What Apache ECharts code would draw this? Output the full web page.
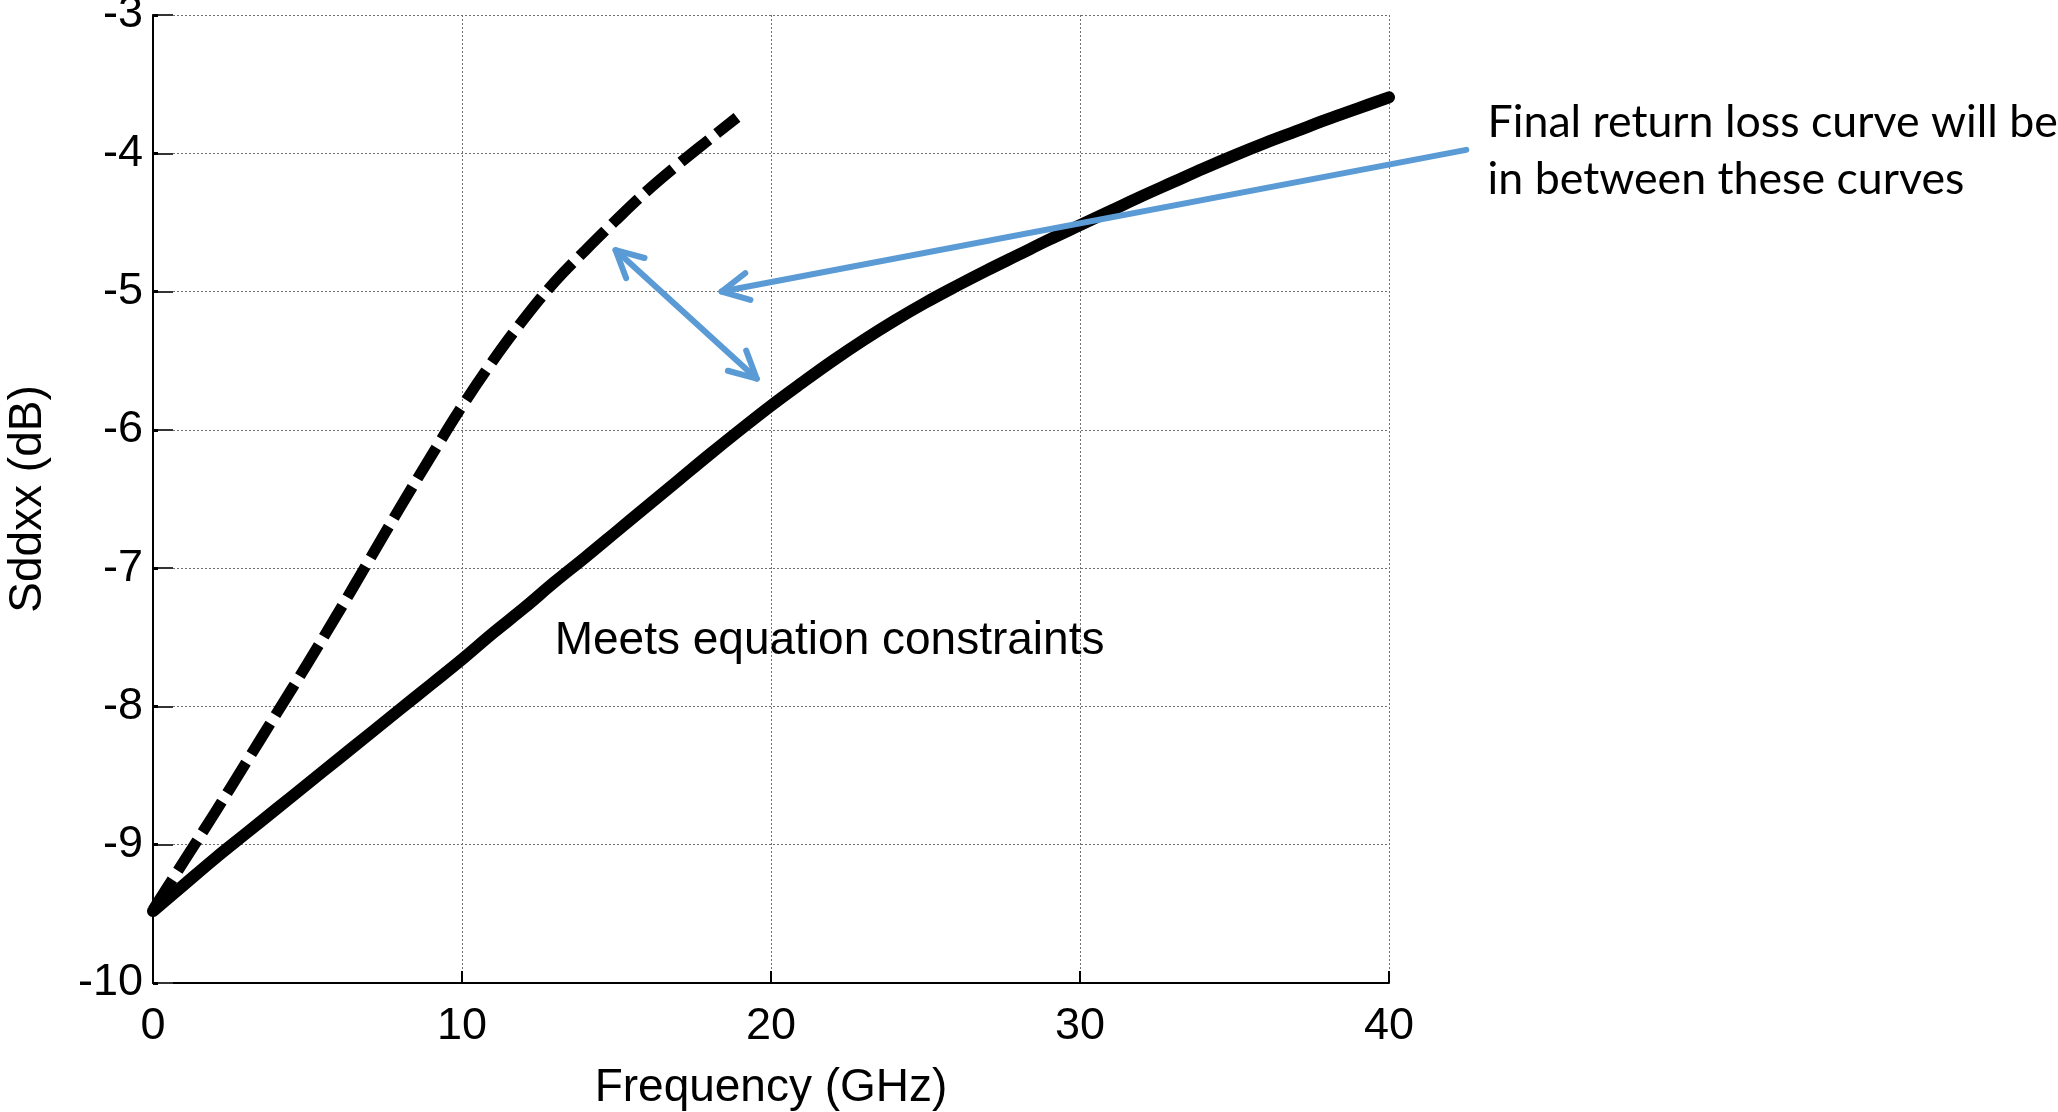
<!DOCTYPE html>
<html><head><meta charset="utf-8">
<script src="https://cdn.jsdelivr.net/npm/echarts@6/dist/echarts.min.js"></script>
<style>html,body{margin:0;padding:0;background:#fff}#c{width:2058px;height:1112px}</style>
</head><body><div id="c"></div>
<script>
// ---- data ----
const xTickValues = [0, 10, 20, 30, 40];
const yTickValues = [-10, -9, -8, -7, -6, -5, -4, -3];
const freqSolid = [0,1,2,3,4,5,6,7,8,9,10,11,12,13,14,15,16,17,18,19,20,21,22,23,24,25,26,27,28,29,30,31,32,33,34,35,36,37,38,39,40];
const sddSolid = [-9.48,-9.29,-9.10,-8.92,-8.74,-8.56,-8.38,-8.20,-8.02,-7.84,-7.66,-7.47,-7.29,-7.10,-6.92,-6.735,-6.55,-6.365,-6.18,-6.00,-5.825,-5.66,-5.50,-5.35,-5.21,-5.08,-4.96,-4.845,-4.735,-4.625,-4.52,-4.415,-4.31,-4.21,-4.11,-4.015,-3.925,-3.84,-3.755,-3.675,-3.595];
const freqDashed = [0,1,2,3,4,5,6,7,8,9,10,11,12,13,14,15,16,17,18,18.9];
const sddDashed = [-9.47,-9.12,-8.77,-8.41,-8.05,-7.69,-7.32,-6.94,-6.56,-6.19,-5.83,-5.50,-5.20,-4.93,-4.70,-4.48,-4.27,-4.08,-3.90,-3.74];
// annotation anchors (data coordinates)
const arrowSingleFrom = [42.5, -3.975];
const arrowSingleTo = [18.4, -5.0];
const arrowDoubleA = [14.97, -4.70];
const arrowDoubleB = [19.54, -5.63];
const noteMidText = 'Meets equation constraints';
const noteMidAnchor = [13.0, -7.53];
const noteRightLines = ['Final return loss curve will be', 'in between these curves'];
const noteRightAnchors = [[43.19, -3.78], [43.19, -4.19]];

const chart = echarts.init(document.getElementById('c'), null, {renderer: 'canvas'});
const axisFont = 'Liberation Sans';
const pairs = (xs, ys) => xs.map((x, i) => [x, ys[i]]);
const gridLine = {show: true, lineStyle: {color: '#707070', width: 1, type: [2, 2]}};

chart.setOption({
  animation: false,
  backgroundColor: '#fff',
  grid: {left: 153, top: 15, width: 1236, height: 968, containLabel: false, outerBoundsMode: 'none'},
  xAxis: {
    type: 'value', min: xTickValues[0], max: xTickValues[xTickValues.length - 1], interval: 10,
    name: 'Frequency (GHz)', nameLocation: 'middle', nameGap: 82,
    nameTextStyle: {fontSize: 46, fontFamily: axisFont, color: '#000'},
    axisLine: {show: true, onZero: false, lineStyle: {color: '#000', width: 2}},
    axisTick: {show: true, inside: true, length: 12, lineStyle: {color: '#000', width: 2}},
    axisLabel: {fontSize: 45, fontFamily: axisFont, color: '#000', margin: 21},
    splitLine: gridLine
  },
  yAxis: [{
    type: 'value', min: yTickValues[0], max: yTickValues[yTickValues.length - 1], interval: 1,
    name: 'Sddxx (dB)', nameLocation: 'middle', nameGap: 102, nameRotate: 90,
    nameTextStyle: {fontSize: 46, fontFamily: axisFont, color: '#000'},
    axisLine: {show: true, onZero: false, lineStyle: {color: '#000', width: 2}},
    axisTick: {show: true, inside: true, length: 20, lineStyle: {color: '#333', width: 2}},
    axisLabel: {fontSize: 45, fontFamily: axisFont, color: '#000', margin: 10},
    splitLine: gridLine
  }, {
    type: 'value', position: 'right', min: yTickValues[0], max: yTickValues[yTickValues.length - 1], interval: 1,
    axisLine: {show: false}, axisLabel: {show: false}, splitLine: {show: false},
    axisTick: {show: true, inside: false, length: 5, lineStyle: {color: '#000', width: 3}}
  }],
  series: [{
    type: 'line', name: 'solid', data: pairs(freqSolid, sddSolid), showSymbol: false, smooth: 0.4,
    lineStyle: {color: '#000', width: 12, type: 'solid', cap: 'round'}, z: 3
  }, {
    type: 'line', name: 'dashed', data: pairs(freqDashed, sddDashed), showSymbol: false, smooth: 0.4,
    lineStyle: {color: '#000', width: 11, type: [36, 10]}, z: 3
  }]
});

function px(p) { return chart.convertToPixel({xAxisIndex: 0, yAxisIndex: 0}, p); }
function chevron(tip, from, len, ang) {
  const dx = from[0] - tip[0], dy = from[1] - tip[1];
  const d = Math.hypot(dx, dy), ux = dx / d, uy = dy / d;
  const r = (a) => [tip[0] + len * (ux * Math.cos(a) - uy * Math.sin(a)), tip[1] + len * (ux * Math.sin(a) + uy * Math.cos(a))];
  return [r(ang), tip, r(-ang)];
}
const blue = '#5B9BD5';
const sFrom = px(arrowSingleFrom), sTo = px(arrowSingleTo);
const dA = px(arrowDoubleA), dB = px(arrowDoubleB);
const ang = 27 * Math.PI / 180;
const lineStyle = {stroke: blue, lineWidth: 6, lineCap: 'round', lineJoin: 'round', fill: null};

const c = document.createElement('canvas').getContext('2d');
c.font = '100px Lato';
const w1 = c.measureText(noteRightLines[0]).width;
const rightSize = w1 > 0 ? Math.round(100 * 570 / w1 * 10) / 10 : 44;

const mid = px(noteMidAnchor);
const graphics = [
  {type: 'line', shape: {x1: sFrom[0], y1: sFrom[1], x2: sTo[0], y2: sTo[1]}, style: lineStyle, z: 10},
  {type: 'polyline', shape: {points: chevron(sTo, sFrom, 30, ang)}, style: lineStyle, z: 10},
  {type: 'line', shape: {x1: dA[0], y1: dA[1], x2: dB[0], y2: dB[1]}, style: lineStyle, z: 10},
  {type: 'polyline', shape: {points: chevron(dA, dB, 30, ang)}, style: lineStyle, z: 10},
  {type: 'polyline', shape: {points: chevron(dB, dA, 30, ang)}, style: lineStyle, z: 10},
  {type: 'text', x: mid[0], y: mid[1], z: 10, style: {text: noteMidText, fill: '#000', fontSize: 46, fontFamily: axisFont, align: 'left', verticalAlign: 'middle', textAlign: 'left', textVerticalAlign: 'middle'}}
];
noteRightLines.forEach((t, i) => {
  const p = px(noteRightAnchors[i]);
  graphics.push({type: 'text', x: p[0], y: p[1], z: 10, style: {text: t, fill: '#000', fontSize: rightSize, fontFamily: 'Lato', align: 'left', verticalAlign: 'middle', textAlign: 'left', textVerticalAlign: 'middle'}});
});
chart.setOption({graphic: graphics});
</script>
</body></html>
